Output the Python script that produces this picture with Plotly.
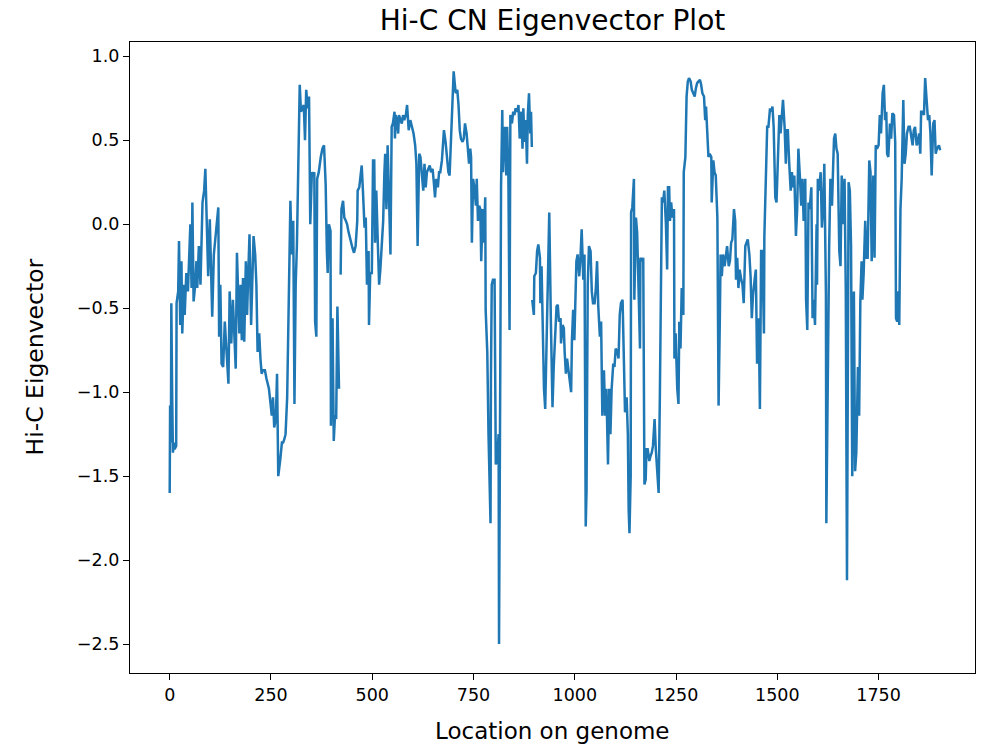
import plotly.graph_objects as go

# Hi-C CN eigenvector values, as (location, eigenvector) pairs.
# The reference line has two breaks (missing values) near location 420 and 895.
segment_1 = [
    (0, -1.60), (1, -1.08), (3, -1.30), (4, -0.47), (6, -1.00), (8, -1.36), (10, -1.30), (12, -1.34),
    (16, -1.32), (17, -0.47), (21, -0.40), (23, -0.10), (26, -0.60), (29, -0.22), (31, -0.65), (35, -0.36),
    (37, -0.54), (41, -0.29), (45, -0.40), (48, -0.22), (51, 0.00), (54, -0.38), (56, 0.13), (59, -0.46),
    (63, -0.36), (66, -0.22), (68, -0.38), (72, -0.13), (76, -0.36), (81, 0.13), (85, 0.20), (88, 0.33),
    (92, 0.00), (95, -0.31), (99, 0.03), (103, -0.36), (105, -0.55), (109, -0.18), (115, 0.00), (120, 0.10),
    (122, -0.67), (125, -0.36), (128, -0.83), (132, -0.85), (136, -0.58), (140, -0.74), (145, -0.95), (148, -0.40),
    (152, -0.71), (156, -0.45), (163, -0.86), (166, -0.17), (172, -0.65), (175, -0.36), (178, -0.69), (181, -0.32),
    (184, -0.70), (188, -0.22), (191, -0.54), (194, -0.29), (197, -0.06), (201, -0.60), (204, -0.34), (207, -0.07),
    (211, -0.18), (214, -0.36), (217, -0.76), (221, -0.65), (224, -0.80), (227, -0.89), (230, -0.87), (235, -0.87),
    (239, -0.92), (242, -0.96), (245, -0.98), (249, -1.07), (252, -1.14), (255, -1.03), (258, -1.21), (262, -1.16),
    (265, -0.89), (268, -1.50), (270, -1.44), (273, -1.40), (277, -1.30), (280, -1.30), (283, -1.28), (286, -1.25),
    (290, -1.03), (293, -0.58), (296, -0.20), (298, 0.14), (301, -0.18), (305, 0.02), (308, -1.07), (311, -0.36),
    (314, -0.13), (318, 0.31), (321, 0.83), (324, 0.67), (328, 0.69), (331, 0.71), (334, 0.50), (337, 0.80),
    (341, 0.69), (344, 0.76), (347, 0.00), (351, 0.31), (354, 0.29), (357, 0.31), (359, -0.58), (362, -0.67),
    (364, 0.27), (368, 0.31), (373, 0.40), (377, 0.45), (381, 0.47), (385, 0.24), (388, -0.16), (390, -0.29),
    (393, 0.00), (397, -0.04), (398, -1.20), (402, -0.56), (405, -1.29), (408, -1.14), (411, -1.16), (414, -0.49),
    (418, -0.98),
]

segment_2 = [
    (422, -0.30), (424, 0.09), (428, 0.14), (431, 0.04), (435, 0.02), (438, 0.00), (441, -0.04), (444, -0.07),
    (447, -0.11), (451, -0.14), (455, -0.17), (459, -0.13), (463, 0.02), (464, 0.20), (468, 0.22), (471, 0.31),
    (474, 0.35), (477, 0.20), (481, -0.02), (484, 0.04), (487, -0.36), (491, -0.16), (492, -0.60), (495, -0.29),
    (499, -0.29), (502, 0.38), (505, 0.38), (507, -0.11), (510, 0.20), (514, -0.13), (517, -0.36), (520, -0.27),
    (523, -0.11), (527, 0.02), (530, 0.31), (532, 0.42), (535, 0.09), (538, 0.47), (541, 0.20), (545, -0.18),
    (548, 0.58), (551, 0.60), (555, 0.67), (556, 0.51), (558, 0.65), (561, 0.62), (564, 0.54), (566, 0.65),
    (570, 0.62), (573, 0.60), (576, 0.65), (579, 0.62), (583, 0.65), (586, 0.71), (590, 0.56), (594, 0.62),
    (598, 0.58), (602, 0.54), (606, 0.47), (609, 0.36), (612, -0.13), (616, 0.42), (619, 0.40), (622, 0.31),
    (626, 0.20), (629, 0.36), (632, 0.22), (635, 0.31), (639, 0.33), (642, 0.35), (645, 0.31), (649, 0.33),
    (652, 0.25), (655, 0.16), (658, 0.27), (662, 0.22), (665, 0.31), (668, 0.31), (672, 0.38), (677, 0.56),
    (681, 0.49), (685, 0.36), (688, 0.31), (691, 0.29), (695, 0.51), (697, 0.65), (700, 0.78), (701, 0.91),
    (704, 0.83), (706, 0.78), (710, 0.80), (713, 0.71), (716, 0.56), (719, 0.51), (723, 0.49), (726, 0.51),
    (729, 0.60), (733, 0.54), (736, 0.45), (739, 0.36), (742, 0.45), (744, 0.40), (746, -0.11), (749, 0.27),
    (752, 0.22), (756, 0.11), (758, 0.27), (761, 0.02), (764, 0.11), (767, 0.09), (769, -0.22), (773, 0.09),
    (775, -0.11), (779, 0.16), (780, -0.51), (784, -0.76), (787, -1.25), (790, -1.59), (792, -1.78), (793, -0.92),
    (795, -0.36), (798, -0.33), (802, -0.33), (805, -1.43), (808, -1.41), (812, -1.25), (813, -2.50), (817, -0.36),
    (818, 0.22), (821, 0.68), (823, 0.31), (826, 0.54), (828, 0.58), (831, 0.29), (833, 0.58), (836, 0.31),
    (839, -0.63), (841, 0.65), (845, 0.60), (848, 0.67), (851, 0.65), (854, 0.69), (858, 0.67), (861, 0.71),
    (864, 0.51), (868, 0.67), (871, 0.45), (873, 0.69), (876, 0.49), (879, 0.62), (882, 0.36), (884, 0.65),
    (887, 0.78), (890, 0.54), (892, 0.67), (894, 0.46),
]

segment_3 = [
    (895, -0.45), (899, -0.54), (900, -0.31), (904, -0.29), (907, -0.16), (910, -0.12), (914, -0.20), (915, -0.47),
    (918, -0.25), (920, -0.47), (922, -0.58), (924, -0.98), (927, -1.10), (930, -0.80), (933, -0.36), (937, 0.07),
    (941, -0.58), (945, -1.09), (948, -0.85), (952, -0.58), (955, -0.49), (958, -0.48), (961, -0.58), (965, -0.56),
    (966, -0.71), (970, -0.60), (973, -0.62), (975, -0.76), (978, -0.89), (981, -0.80), (984, -0.87), (988, -0.94),
    (991, -1.00), (993, -0.69), (996, -0.51), (999, -0.69), (1002, -0.31), (1004, -0.22), (1007, -0.18), (1011, -0.31),
    (1014, -0.20), (1017, -0.03), (1021, -0.33), (1024, -0.18), (1027, -1.80), (1029, -1.59), (1032, -0.36), (1035, -0.13),
    (1039, -0.16), (1042, -0.40), (1045, -0.47), (1049, -0.47), (1052, -0.38), (1055, -0.22), (1058, -0.49), (1062, -0.67),
    (1065, -0.58), (1068, -1.14), (1072, -0.87), (1075, -1.14), (1078, -0.98), (1082, -1.43), (1085, -0.98), (1088, -1.25),
    (1091, -0.98), (1095, -0.83), (1098, -0.85), (1101, -0.74), (1105, -0.76), (1108, -0.80), (1111, -0.54), (1114, -0.47),
    (1118, -0.45), (1121, -0.80), (1124, -1.12), (1128, -1.03), (1131, -1.25), (1133, -1.70), (1135, -1.84), (1138, -1.50),
    (1139, 0.07), (1142, 0.10), (1146, 0.27), (1147, -0.45), (1151, 0.04), (1154, -0.05), (1157, -0.36), (1161, -0.74),
    (1162, -0.20), (1166, -0.22), (1169, -0.20), (1172, -1.55), (1175, -1.52), (1177, -1.34), (1180, -1.34), (1184, -1.41),
    (1187, -1.38), (1190, -1.36), (1193, -1.32), (1197, -1.16), (1200, -1.34), (1203, -1.43), (1207, -1.60), (1210, -1.03),
    (1213, -0.02), (1215, 0.16), (1218, 0.13), (1221, 0.20), (1225, 0.00), (1228, -0.27), (1230, 0.22), (1233, 0.22),
    (1235, 0.02), (1238, 0.13), (1241, 0.04), (1245, 0.09), (1246, -0.80), (1249, -0.65), (1253, -0.98), (1256, -1.07),
    (1258, -0.58), (1261, -0.74), (1264, -0.38), (1268, -0.54), (1269, 0.31), (1273, 0.40), (1276, 0.76), (1279, 0.85),
    (1282, 0.87), (1286, 0.85), (1289, 0.80), (1292, 0.78), (1296, 0.76), (1299, 0.81), (1302, 0.84), (1305, 0.85),
    (1309, 0.86), (1312, 0.83), (1315, 0.78), (1319, 0.76), (1322, 0.62), (1324, 0.70), (1327, 0.54), (1330, 0.40),
    (1333, 0.42), (1337, 0.40), (1338, 0.13), (1342, 0.38), (1345, 0.31), (1348, 0.29), (1352, 0.04), (1355, -1.08),
    (1358, -0.58), (1360, -0.18), (1363, -0.31), (1366, -0.18), (1370, -0.25), (1373, -0.18), (1376, -0.13), (1380, -0.25),
    (1383, -0.22), (1386, -0.11), (1389, -0.09), (1393, 0.09), (1396, 0.02), (1398, -0.33), (1401, -0.20), (1404, -0.38),
    (1407, -0.27), (1411, -0.33), (1414, -0.36), (1417, -0.47), (1421, -0.13), (1424, -0.11), (1427, -0.09), (1431, -0.18),
    (1434, -0.31), (1437, -0.56), (1440, -0.42), (1444, -0.33), (1447, -0.27), (1450, -0.83), (1454, -0.56), (1457, -1.10),
    (1460, -0.16), (1463, -0.16), (1467, -0.65), (1468, -0.07), (1472, 0.31), (1475, 0.58), (1478, 0.58), (1482, 0.69),
    (1485, 0.67), (1488, 0.70), (1491, 0.58), (1495, 0.16), (1498, 0.13), (1501, 0.40), (1505, 0.65), (1508, 0.54),
    (1511, 0.65), (1514, 0.74), (1518, 0.58), (1521, 0.36), (1523, 0.56), (1526, 0.56), (1529, 0.38), (1533, 0.20),
    (1536, 0.31), (1539, 0.22), (1542, 0.29), (1546, -0.07), (1549, 0.09), (1552, 0.45), (1556, 0.27), (1559, 0.11),
    (1562, 0.27), (1565, 0.02), (1569, 0.27), (1571, -0.45), (1574, -0.63), (1577, 0.13), (1580, 0.09), (1584, 0.22),
    (1587, -0.56), (1590, -0.45), (1593, -0.60), (1597, 0.00), (1598, -0.36), (1600, 0.27), (1603, 0.20), (1607, 0.31),
    (1610, -0.02), (1613, 0.09), (1616, 0.36), (1620, -0.42), (1621, -1.78), (1625, -0.58), (1628, -0.13), (1631, 0.27),
    (1635, 0.11), (1638, 0.36), (1640, 0.51), (1643, 0.54), (1646, 0.45), (1649, 0.42), (1653, -0.16), (1656, -0.25),
    (1659, 0.29), (1663, 0.00), (1666, 0.27), (1669, -0.40), (1672, -2.12), (1676, 0.25), (1679, 0.20), (1682, -0.13),
    (1685, -1.50), (1689, -0.40), (1692, -1.47), (1695, -1.36), (1699, -0.85), (1702, -1.14), (1705, -0.45), (1708, -0.22),
    (1710, -0.45), (1713, -0.30), (1717, 0.02), (1720, -0.20), (1723, -0.20), (1727, 0.38), (1730, 0.31), (1733, -0.22),
    (1737, 0.29), (1740, -0.20), (1743, 0.47), (1746, 0.45), (1750, 0.47), (1753, 0.65), (1756, 0.54), (1760, 0.78),
    (1763, 0.83), (1766, 0.62), (1769, 0.67), (1771, 0.42), (1774, 0.40), (1778, 0.60), (1781, 0.51), (1784, 0.66),
    (1788, 0.65), (1791, 0.49), (1793, -0.56), (1796, -0.58), (1799, -0.40), (1801, -0.60), (1804, 0.09), (1807, 0.27),
    (1811, 0.74), (1814, 0.36), (1817, 0.42), (1820, 0.54), (1824, 0.58), (1827, 0.58), (1830, 0.54), (1834, 0.47),
    (1837, 0.56), (1840, 0.58), (1844, 0.47), (1847, 0.49), (1850, 0.54), (1853, 0.42), (1855, 0.67), (1858, 0.67),
    (1862, 0.65), (1865, 0.87), (1868, 0.76), (1872, 0.62), (1875, 0.65), (1878, 0.54), (1881, 0.29), (1885, 0.60),
    (1888, 0.62), (1891, 0.42), (1894, 0.45), (1899, 0.47), (1902, 0.44),
]

x_ticks = [0, 250, 500, 750, 1000, 1250, 1500, 1750]
y_ticks = [-2.5, -2.0, -1.5, -1.0, -0.5, 0.0, 0.5, 1.0]
title_text = "Hi-C CN Eigenvector Plot"
x_label = "Location on genome"
y_label = "Hi-C Eigenvector"

xs, ys = [], []
for i, seg in enumerate([segment_1, segment_2, segment_3]):
    if i > 0:
        xs.append(None)
        ys.append(None)
    for loc, val in seg:
        xs.append(loc)
        ys.append(val)

FONT = "DejaVu Sans"

fig = go.Figure(
    go.Scatter(x=xs, y=ys, mode="lines", connectgaps=False,
               line=dict(color="#1f77b4", width=2.5), hoverinfo="skip")
)

axis_common = dict(
    showgrid=False, zeroline=False, showline=True, linecolor="black", linewidth=1.3,
    mirror=True, ticks="outside", ticklen=6, tickwidth=1.3, tickcolor="black",
    tickfont=dict(family=FONT, size=17.5, color="black"),
)

fig.update_layout(
    width=987, height=747,
    margin=dict(l=130, r=12, t=42, b=74),
    paper_bgcolor="white", plot_bgcolor="white",
    showlegend=False,
    xaxis=dict(range=[-98, 1988], tickvals=x_ticks, ticktext=[str(t) for t in x_ticks], **axis_common),
    yaxis=dict(range=[-2.672, 1.085], tickvals=y_ticks, tickformat=".1f", **axis_common),
    title=dict(text=title_text, x=0.5598, xanchor="center", y=1 - 20 / 747, yanchor="middle",
               font=dict(family=FONT, size=28, color="black")),
    annotations=[
        dict(text=x_label, xref="paper", yref="paper", x=0.5, y=0, yanchor="middle", xanchor="center",
             yshift=-58, showarrow=False, font=dict(family=FONT, size=23, color="black")),
        dict(text=y_label, xref="paper", yref="paper", x=0, y=0.5, xanchor="center", yanchor="middle",
             xshift=-96, textangle=-90, showarrow=False, font=dict(family=FONT, size=23.5, color="black")),
    ],
)

fig.write_html("out.html")
